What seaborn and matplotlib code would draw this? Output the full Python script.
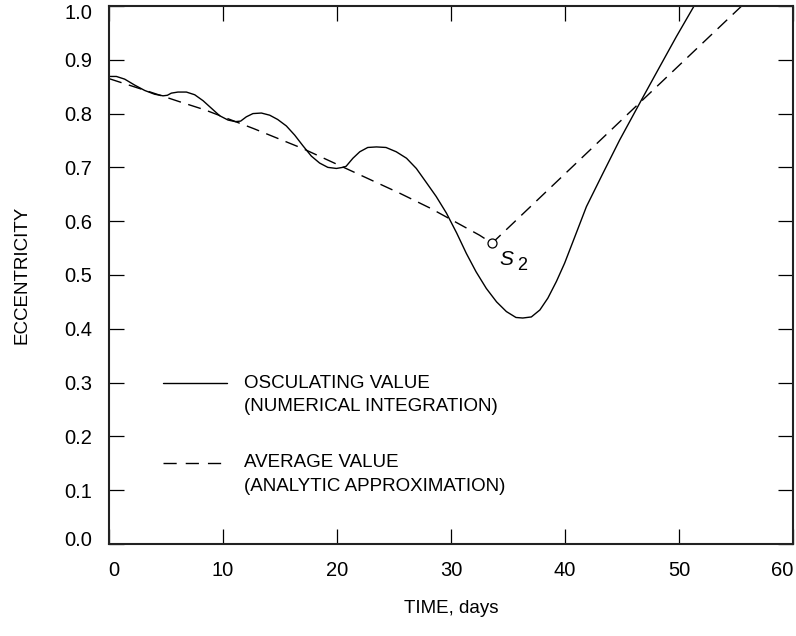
import matplotlib
matplotlib.use("Agg")
import matplotlib.pyplot as plt
import matplotlib.transforms as mtransforms
import numpy as np
import pandas as pd
import seaborn as sns

# Osculating eccentricity (numerical integration)
t_osc = [0.0, 0.65, 1.38, 2.25, 3.13, 4.0, 4.74, 5.12, 5.47, 6.05, 6.79, 7.52,
         8.25, 8.98, 9.71, 10.44, 11.09, 11.55, 12.05, 12.63, 13.37, 14.1, 14.8,
         15.56, 16.29, 17.02, 17.75, 18.48, 19.2, 19.95, 20.5, 20.8, 21.4, 22.0,
         22.7, 23.46, 24.3, 25.2, 26.1, 26.96, 27.8, 28.7, 29.6, 30.5, 31.35,
         32.2, 33.1, 34.0, 34.86, 35.7, 36.3, 37.05, 37.8, 38.5, 39.25, 39.97,
         40.7, 41.3, 41.88, 43.33, 44.8, 46.7, 48.31, 49.77, 51.38]
e_osc = [0.869, 0.869, 0.864, 0.853, 0.843, 0.836, 0.833, 0.834, 0.838, 0.840,
         0.840, 0.835, 0.824, 0.810, 0.796, 0.788, 0.785, 0.786, 0.794, 0.800,
         0.801, 0.797, 0.789, 0.777, 0.760, 0.740, 0.721, 0.708, 0.700, 0.698,
         0.700, 0.702, 0.717, 0.729, 0.737, 0.738, 0.737, 0.729, 0.717, 0.698,
         0.673, 0.646, 0.615, 0.578, 0.540, 0.506, 0.475, 0.450, 0.432, 0.421,
         0.420, 0.422, 0.435, 0.457, 0.488, 0.522, 0.562, 0.595, 0.627, 0.689,
         0.751, 0.825, 0.887, 0.943, 1.002]

# Average eccentricity (analytic approximation)
t_avg = [0.0, 3.2, 6.2, 8.4, 12.7, 17.0, 21.1, 25.5, 28.2, 32.5, 33.6, 39.9,
         46.7, 55.5]
e_avg = [0.865, 0.843, 0.822, 0.807, 0.772, 0.735, 0.695, 0.652, 0.624, 0.574,
         0.559, 0.686, 0.823, 1.0]

# Switching point S2
s2_t = [33.6]
s2_e = [0.559]

x_ticks = [0, 10, 20, 30, 40, 50, 60]
y_ticks = [0.0, 0.1, 0.2, 0.3, 0.4, 0.5, 0.6, 0.7, 0.8, 0.9, 1.0]

sns.set_theme(style="ticks")
plt.rcParams["font.family"] = ["Liberation Sans", "DejaVu Sans"]
plt.rcParams["lines.scale_dashes"] = False
plt.rcParams["text.color"] = "black"
plt.rcParams["axes.labelcolor"] = "black"

fig = plt.figure(figsize=(7.96, 6.36), dpi=100)
ax = fig.add_axes([0.1369, 0.1447, 0.8593, 0.8459])

df_osc = pd.DataFrame({"t": t_osc, "e": e_osc})
df_avg = pd.DataFrame({"t": t_avg, "e": e_avg})
df_s2 = pd.DataFrame({"t": s2_t, "e": s2_e})

dash = (0, (9.5, 5.5))
sns.lineplot(data=df_osc, x="t", y="e", ax=ax, color="black", lw=1.0,
             estimator=None, sort=False)
sns.lineplot(data=df_avg, x="t", y="e", ax=ax, color="black", lw=1.0,
             estimator=None, sort=False, linestyle=dash)
sns.scatterplot(data=df_s2, x="t", y="e", ax=ax, marker="o", s=42,
                facecolor="white", edgecolor="black", linewidth=0.9, zorder=5)

# S2 label: italic S with an upright subscript
ax.annotate("S", (s2_t[0], s2_e[0]), xytext=(5.5, -16), textcoords="offset points",
            fontsize=15, fontstyle="italic", ha="left", va="baseline")
ax.annotate("2", (s2_t[0], s2_e[0]), xytext=(18, -19.5), textcoords="offset points",
            fontsize=13, ha="left", va="baseline")

ax.set_xlim(0, 60)
ax.set_ylim(0, 1.0)
ax.set_xticks(x_ticks)
ax.set_yticks(y_ticks)
ax.set_xticklabels([str(v) for v in x_ticks])
ax.set_yticklabels([f"{v:.1f}" for v in y_ticks])
ax.tick_params(direction="in", length=10.5, width=0.9, top=True, right=True,
               labelsize=14.5, colors="black")
ax.tick_params(axis="x", pad=12)
ax.tick_params(axis="y", pad=12)
for sp in ax.spines.values():
    sp.set_visible(True)
    sp.set_linewidth(1.5)
    sp.set_color("#222222")

# pull the end labels inward so they stay within the frame
def nudge(label, dx, dy):
    off = mtransforms.ScaledTranslation(dx / 72, dy / 72, fig.dpi_scale_trans)
    label.set_transform(label.get_transform() + off)

xl = ax.get_xticklabels()
yl = ax.get_yticklabels()
nudge(xl[0], 3.5, 0)
nudge(xl[-1], -8, 0)
nudge(yl[0], 0, 4)
nudge(yl[-1], 0, -4)

ax.set_xlabel("TIME, days", fontsize=13.5, labelpad=15)
ax.set_ylabel("ECCENTRICITY", fontsize=13.5, labelpad=24)

# Key drawn in axes coordinates
tr = ax.transAxes
ax.plot([0.079, 0.172], [0.299, 0.299], color="black", lw=1.0, transform=tr)
ax.plot([0.079, 0.172], [0.151, 0.151], color="black", lw=1.0,
        linestyle=(0, (9.5, 6.5)), transform=tr)
for y, s in [(0.299, "OSCULATING VALUE"), (0.255, "(NUMERICAL INTEGRATION)"),
             (0.151, "AVERAGE VALUE"), (0.106, "(ANALYTIC APPROXIMATION)")]:
    ax.text(0.197, y, s, transform=tr, fontsize=13.5, ha="left", va="center")

fig.savefig("out.png", dpi=100)
